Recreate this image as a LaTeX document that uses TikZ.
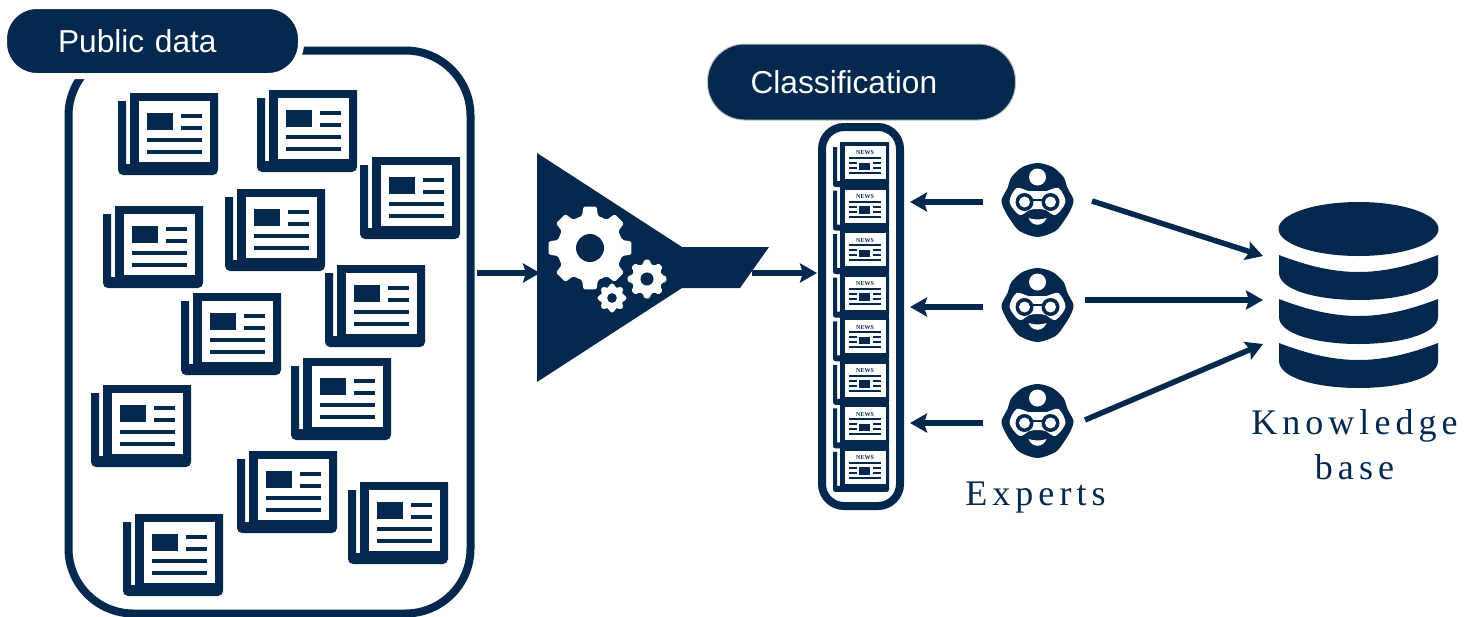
\documentclass[tikz,border=0pt]{standalone}
\usepackage{fontspec}
\setsansfont{Liberation Sans}
\newfontfamily\captionfont[LetterSpace=14]{Liberation Serif}
\newfontfamily\paperfont{Liberation Serif}
\usepackage{tikz}
\usetikzlibrary{arrows.meta}
\definecolor{navy}{HTML}{02294D}

\tikzset{
    pillbox/.style={fill=navy, text=white, align=left, rounded corners=33pt,
        font=\sffamily\fontsize{31.7}{38}\selectfont},
    flowarrow/.style={line width=5.5pt, color=navy, -{Stealth[length=17pt,width=19pt,inset=3pt]}},
    spot/.style={inner sep=0pt, minimum width=#1, minimum height=70pt},
    captiontext/.style={text=navy, align=center, inner sep=0pt, font=\captionfont\fontsize{36}{45}\selectfont},
    % big newspaper, origin at the top left corner of the sheet
    pics/newsbig/.style={code={
        \fill[navy] (12,0) -- (100,0) [rounded corners=5pt] -- (100,82) -- (0,82) [sharp corners] -- (0,8) -- (8,8) -- (8,71) -- (12,71) -- cycle;
        \fill[white] (21,8) rectangle (92,69);
        \fill[navy] (29,20) rectangle (54.5,37);
        \foreach \y/\x in {22.5/63, 35/63, 47/29, 59/29} {
            \draw[navy, line width=4pt] (\x,\y) -- (84,\y);
        }
    }},
    % small newspaper, origin at the top left corner of its white part
    pics/newssmall/.style={code={
        \fill[navy] (7,-4) -- (56,-4) [rounded corners=2.5pt] -- (56,41) -- (0,41) [sharp corners] -- (0,1) -- (4,1) -- (4,35) -- (7,35) -- cycle;
        \fill[white] (12,0) rectangle (52.5,33);
        \node[inner sep=0pt, text=navy, font=\paperfont\bfseries\fontsize{6}{6}\selectfont] (-title) at (32,7) {NEWS};
        \fill[navy] (26,16.5) rectangle (37,24);
        \foreach \y in {12,27} {
            \draw[navy, line width=2pt] (16,\y) -- (48,\y);
        }
        \foreach \y in {17,22} {
            \draw[navy, line width=2pt] (16,\y) -- (24,\y) (40,\y) -- (48,\y);
        }
    }},
    pics/gearwheel/.style={code={
        \fill[white, rounded corners=1.5pt] (-14:33) \foreach \a in {0,45,...,315} {
            -- (\a-9:42) -- (\a+9:42) -- (\a+14:33) -- (\a+31:33)
        } -- cycle;
        \fill[navy] (0,0) circle (14);
    }},
    pics/expertface/.style={code={
        \fill[navy] plot[smooth cycle] coordinates {(0,-37) (15,-33) (26,-23) (30,-12) (36,0) (33,10) (27,20) (18,31) (0,37) (-18,31) (-27,20) (-33,10) (-36,0) (-30,-12) (-26,-23) (-15,-33)};
        \fill[white] plot[smooth cycle] coordinates {(-21,-12) (-9,-9) (0,-9) (9,-9) (21,-12) (28,2) (18,15) (8,10) (0,9) (-8,10) (-18,15) (-28,2)};
        \fill[white] (0,-23) circle (8.5);
        \fill[navy] (-13,2) circle (9) (13,2) circle (9);
        \fill[white] (-13,2) circle (5.5) (13,2) circle (5.5);
        \draw[navy, line width=2.5pt] (-5,0) -- (5,0);
        \fill[white] (-9,18) .. controls (-3,20) and (3,20) .. (9,18) .. controls (6,27) and (-6,27) .. cycle;
    }},
    pics/diskband/.style={code={
        \fill[navy] (1279,255) .. controls (1310,267) and (1335,272) .. (1358.5,272) .. controls (1382,272) and (1407,267) .. (1438,255)
            -- (1438,273) .. controls (1438,290) and (1400,300) .. (1358.5,300) .. controls (1317,300) and (1279,290) .. (1279,273) -- cycle;
    }}
}

\begin{document}
\begin{tikzpicture}[x=1pt, y=-1pt]
    \useasboundingbox (0,0) rectangle (1466,616);

    % Public data box with its newspapers
    \node[draw=navy, line width=8pt, rounded corners=65pt, minimum width=402pt, minimum height=563pt, inner sep=0pt] (publicbox) at (269.5,332) {};
    \node[pillbox, draw=white, line width=6pt, minimum height=70pt, inner xsep=54pt, text width=189pt] (publictitle) at (152.5,41) {Public data};

    \foreach \i/\x/\y in
    {
        1/118/93, 2/257/90, 3/360/157, 4/103/206, 5/225/189, 6/325/265,
        7/181/293, 8/291/358, 9/91/385, 10/237/451, 11/348/482, 12/123/514
    } {
        \pic at (\x,\y) {newsbig};
    }

    % Filter with gears
    \fill[navy] (537,153) -- (682,247) -- (769,247) -- (740,288) -- (682,288) -- (537,382) -- cycle;
    \pic at (590,248) {gearwheel};
    \pic[scale=0.465] at (647,279) {gearwheel};
    \pic[scale=0.345] at (612,298) {gearwheel};

    \coordinate (publicout) at (477,273);
    \coordinate (filterin) at (540,273);
    \coordinate (filterout) at (752,273);
    \coordinate (stackin) at (817,273);
    \draw[flowarrow] (publicout) -- (filterin);
    \draw[flowarrow] (filterout) -- (stackin);

    % Classification column
    \node[pillbox, draw=black!25, line width=1pt, rounded corners=37pt, minimum height=76pt, inner xsep=43pt, text width=222pt, anchor=west] (classtitle) at (707,82) {Classification};
    \node[draw=navy, line width=8pt, rounded corners=22pt, minimum width=78pt, minimum height=379pt, inner sep=0pt] (stackframe) at (861,316.5) {};
    \foreach \i in {0,...,7} {
        \pic (paper\i) at (833,146+\i*43.57) {newssmall};
    }

    % Experts
    \foreach \i/\y in {1/200, 2/305, 3/421} {
        \pic at (1037.5,\y) {expertface};
        \node[spot=108pt] (expert\i) at (1037,\y+2) {};
        \draw[flowarrow, shorten >=6pt] (expert\i.west) -- (expert\i.west -| stackframe.east);
    }
    \node[captiontext] (expertlabel) at (1035.5,498) {Experts};

    % Knowledge base
    \fill[navy] (1358.5,229) ellipse (80 and 27);
    \foreach \d in {0,44,88} {
        \pic at (0,\d) {diskband};
    }
    \node[captiontext] (baselabel) at (1354.5,444.5) {Knowledge\\base};

    \coordinate (expertout1) at (1092,201);
    \coordinate (expertout2) at (1085,300);
    \coordinate (expertout3) at (1085,420);
    \coordinate (basein1) at (1263,256);
    \coordinate (basein2) at (1263,300);
    \coordinate (basein3) at (1263,344);
    \foreach \i in {1,2,3} {
        \draw[flowarrow] (expertout\i) -- (basein\i);
    }
\end{tikzpicture}
\end{document}
